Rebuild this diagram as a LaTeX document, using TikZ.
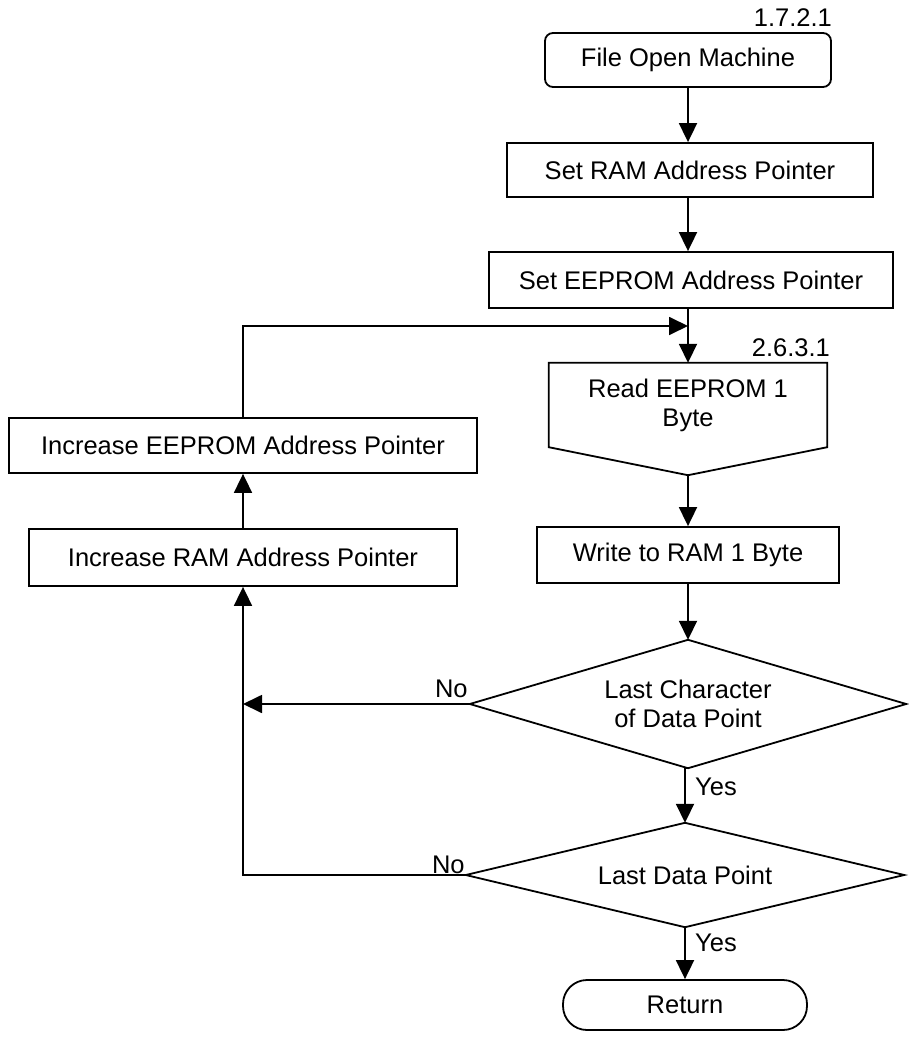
\documentclass[tikz,border=0pt]{standalone}
\usepackage{fontspec}
\setmainfont{Liberation Sans}
\usetikzlibrary{arrows.meta,calc}
\begin{document}
\begin{tikzpicture}[x=1pt,y=-1pt,
  every node/.style={font=\fontsize{25.5}{29}\selectfont, inner sep=0pt},
  box/.style={draw, line width=1.8pt, rectangle, align=center},
  rbox/.style={box, rounded corners=8pt},
  shapebox/.style={rectangle, align=center},
  lbl/.style={font=\fontsize{25.5}{29}\selectfont},
  arr/.style={line width=1.8pt, -{Triangle[length=19pt,width=18pt]}},
  ln/.style={line width=1.8pt}]
\useasboundingbox (0,0) rectangle (908,1040);
% nodes
\node[rbox, minimum width=286, minimum height=54] (fom) at (688,60) {File Open Machine};
\node[lbl, anchor=east] (l1) at (832,18) {1.7.2.1};
\node[box, minimum width=366, minimum height=54] (setram) at (690,170) {Set RAM Address Pointer};
\node[box, minimum width=404, minimum height=56] (seteep) at (691,280) {Set EEPROM Address Pointer};
\node[shapebox, minimum width=278, minimum height=84] (read) at (688,405) {Read EEPROM 1\\Byte};
\coordinate (readtip) at ($(read.south)+(0,28)$);
\draw[ln, line join=miter] (read.north west) -- (read.north east) -- (read.south east) -- (readtip) -- (read.south west) -- cycle;
\node[lbl, anchor=east] (l2) at (830,348) {2.6.3.1};
\node[box, minimum width=302, minimum height=56] (write) at (688,555) {Write to RAM 1 Byte};
\node[shapebox, minimum width=436, minimum height=128] (d1) at (688,704) {Last Character\\of Data Point};
\draw[ln] (d1.north) -- (d1.east) -- (d1.south) -- (d1.west) -- cycle;
\node[shapebox, minimum width=438, minimum height=104] (d2) at (685,875) {Last Data Point};
\draw[ln] (d2.north) -- (d2.east) -- (d2.south) -- (d2.west) -- cycle;
\node[box, rounded corners=24pt, minimum width=244, minimum height=50] (ret) at (685,1005) {Return};
\node[box, minimum width=468, minimum height=55] (incE) at (243,445.5) {Increase EEPROM Address Pointer};
\node[box, minimum width=428, minimum height=57] (incR) at (243,557.5) {Increase RAM Address Pointer};
% connectors
\draw[arr] (fom.south) -- (fom.south |- setram.north);
\draw[arr] (fom.south |- setram.south) -- (fom.south |- seteep.north);
\draw[arr] (read.north |- seteep.south) -- (read.north);
\coordinate (m) at (688,326);
\draw[arr] (incE.north) |- (m);
\draw[arr] (readtip) -- (write.north);
\draw[arr] (write.south) -- (d1.north);
\draw[arr] (d1.south) -- (d2.north |- d1.south) -- (d2.north);
\draw[arr] (d2.south) -- (ret.north);
\coordinate (j1) at (incR.south |- d1.west);
\coordinate (j2) at (incR.south |- d2.west);
\draw[arr] (d1.west) -- (j1);
\draw[arr] (d2.west) -- (j2) -- (incR.south);
\draw[arr] (incR.north) -- (incE.south);
% branch labels
\node[lbl, anchor=base east] (no1) at ($(d1.west)+(-2,-7)$) {No};
\node[lbl, anchor=base east] (no2) at ($(d2.west)+(-1,-2)$) {No};
\node[lbl, anchor=west] (yes1) at ($(d1.south)+(7,19)$) {Yes};
\node[lbl, anchor=west] (yes2) at ($(d2.south)+(10,16)$) {Yes};
\end{tikzpicture}
\end{document}
